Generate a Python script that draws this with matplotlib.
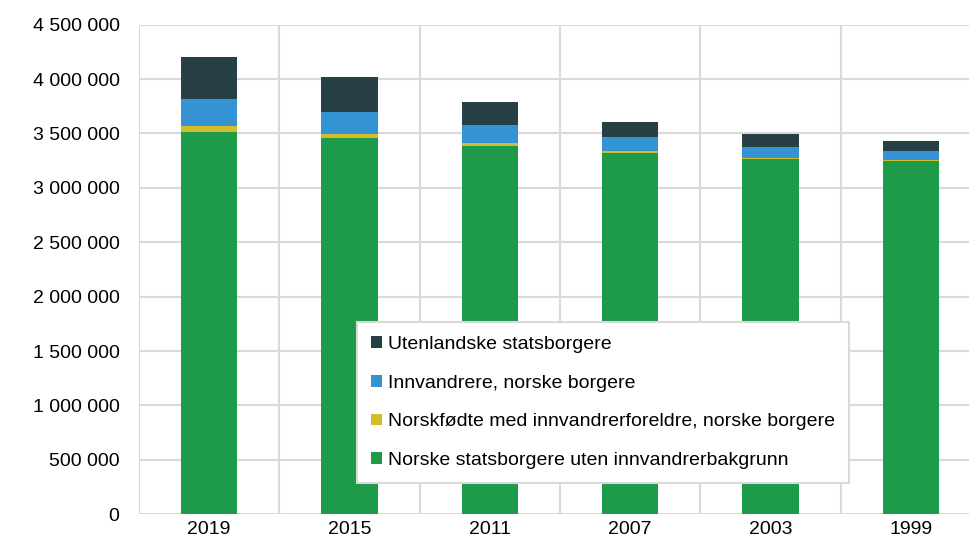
import numpy as np
import matplotlib.pyplot as plt
from matplotlib.ticker import FuncFormatter

plt.rcParams['font.family'] = ['Liberation Sans', 'DejaVu Sans']

years = ['2019', '2015', '2011', '2007', '2003', '1999']
norske_uten = [3515000, 3457000, 3389000, 3320000, 3262000, 3244000]
norskfodte = [50000, 37000, 24000, 19000, 12000, 9000]
innvandrere_norske = [250000, 203000, 164000, 127000, 102000, 83000]
utenlandske = [389000, 318000, 210000, 139000, 118000, 99000]

series = [
    ('Norske statsborgere uten innvandrerbakgrunn', norske_uten, '#1d9b48'),
    ('Norskfødte med innvandrerforeldre, norske borgere', norskfodte, '#d4bd2a'),
    ('Innvandrere, norske borgere', innvandrere_norske, '#3393d3'),
    ('Utenlandske statsborgere', utenlandske, '#264046'),
]

fig = plt.figure(figsize=(9.69, 5.41), dpi=100)
ax = fig.add_axes([0.1434, 0.0494, 0.869, 0.905])

x = np.arange(len(years))
bottom = np.zeros(len(years))
for label, vals, color in series:
    ax.bar(x, vals, width=0.40, bottom=bottom, color=color, label=label,
           zorder=3)
    bottom += np.array(vals)

ax.set_xlim(-0.5, len(years) - 0.5)
ax.set_ylim(0, 4500000)
ax.set_yticks(np.arange(0, 4500001, 500000))
ax.yaxis.set_major_formatter(FuncFormatter(lambda v, p: f'{int(v):,}'.replace(',', ' ')))
ax.set_xticks(x)
ax.set_xticklabels(years)
ax.set_xticks(np.arange(-0.5, len(years), 1), minor=True)

ax.grid(axis='y', which='major', color='#d9d9d9', linewidth=1.5, zorder=0)
ax.grid(axis='x', which='minor', color='#d9d9d9', linewidth=1.5, zorder=0)
ax.tick_params(axis='both', which='both', length=0, labelsize=14, colors='black')
ax.tick_params(axis='y', pad=14)
ax.tick_params(axis='x', pad=5)
for s in ax.spines.values():
    s.set_visible(False)

handles, labels = ax.get_legend_handles_labels()
leg = ax.legend(handles[::-1], labels[::-1], loc='upper left',
                bbox_to_anchor=(0.259, 0.393), borderaxespad=0,
                fontsize=14, frameon=True, fancybox=False, framealpha=1,
                handlelength=0.55, handleheight=0.55, handletextpad=0.3,
                labelspacing=1.12, borderpad=0.72)
leg.get_frame().set_edgecolor('#d9d9d9')
leg.get_frame().set_linewidth(1.5)
leg.set_zorder(5)

fig.savefig('out.png', dpi=100)
